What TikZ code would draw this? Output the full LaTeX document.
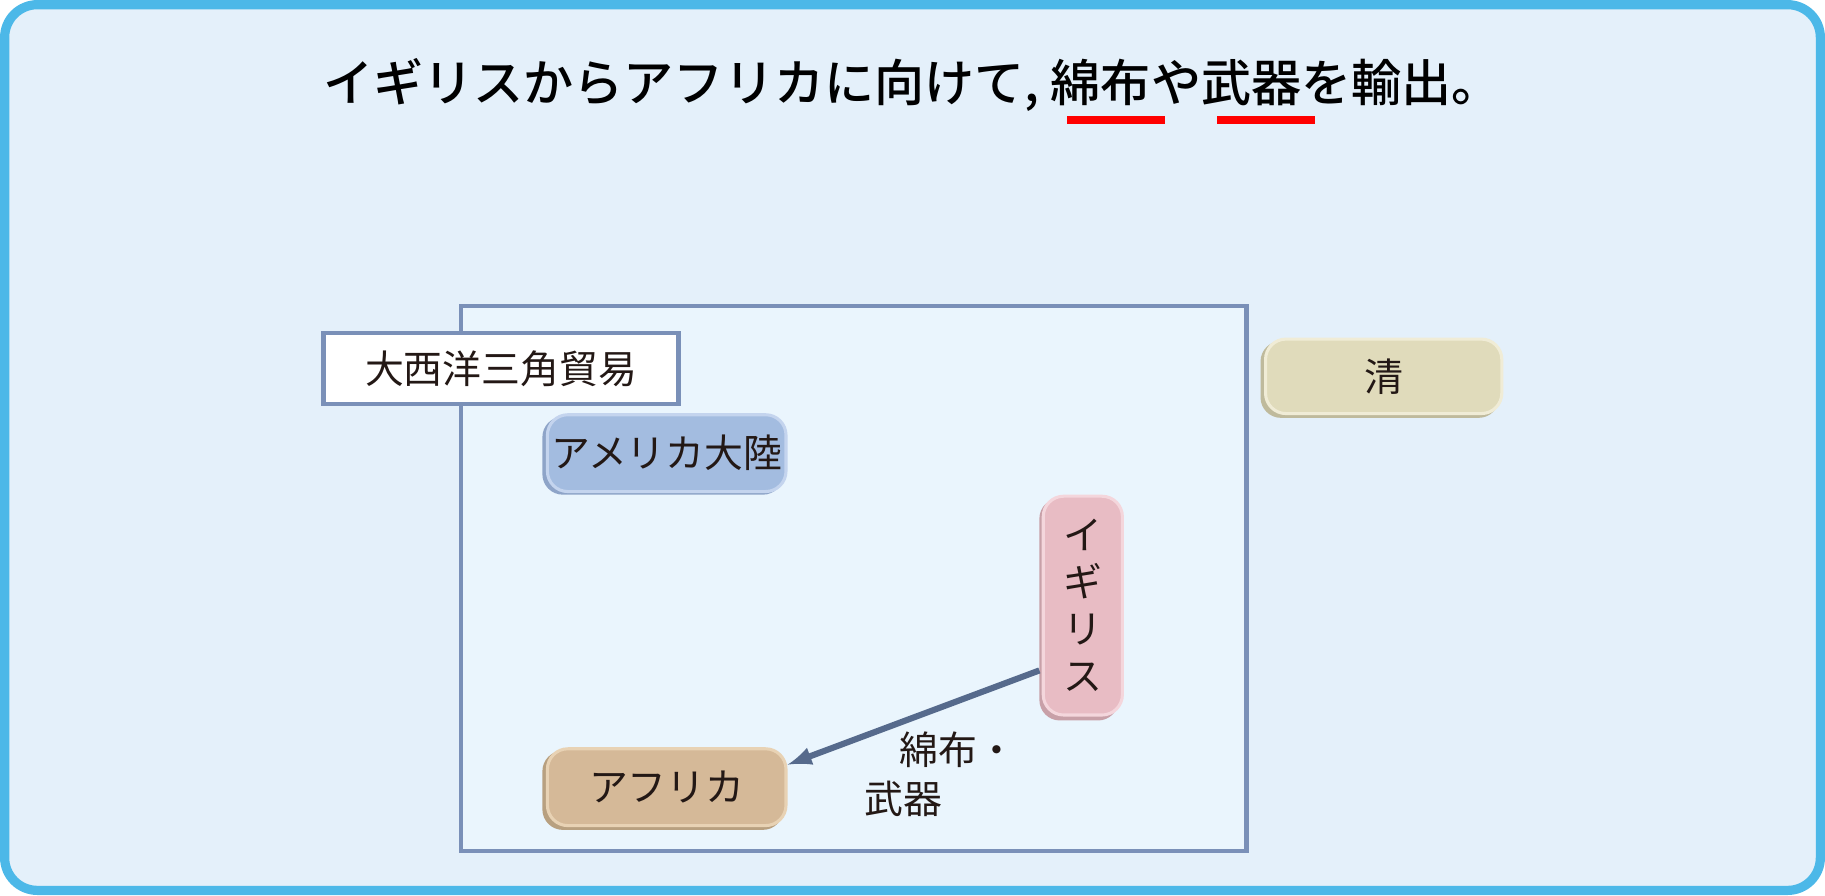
\documentclass[tikz,border=0pt]{standalone}
\usepackage{fontspec}
\setmainfont{Noto Sans CJK JP}
\newfontfamily\titlefont{Noto Sans CJK JP Medium}
\definecolor{outerb}{HTML}{4CB8E8}
\definecolor{outerf}{HTML}{E4F0FA}
\definecolor{innerb}{HTML}{7A90B8}
\definecolor{innerf}{HTML}{EAF5FD}
\definecolor{amf}{HTML}{A3BCE0}\definecolor{amb}{HTML}{C4D4EE}\definecolor{ams}{HTML}{8EA4C8}
\definecolor{ukf}{HTML}{E8BCC4}\definecolor{ukb}{HTML}{F4D6DC}\definecolor{uks}{HTML}{C8A0A8}
\definecolor{aff}{HTML}{D5B998}\definecolor{afb}{HTML}{E8D2B4}\definecolor{afs}{HTML}{B8A080}
\definecolor{qf}{HTML}{E0DBBB}\definecolor{qb}{HTML}{F0ECD6}\definecolor{qs}{HTML}{BFBA9C}
\definecolor{arr}{HTML}{566A8C}
\definecolor{txt}{HTML}{231815}
\begin{document}
\begin{tikzpicture}[x=0.02cm,y=-0.02cm,
  box/.style={rounded corners=10pt,inner sep=0pt,anchor=north west,font=\fontsize{19}{22}\selectfont,text=txt,line width=1.5pt}]
\useasboundingbox (0,0) rectangle (1568,769);
\draw[draw=outerb,fill=outerf,line width=4.5pt,rounded corners=16pt] (4,4) rectangle (1564,765);
\node[text=black] (title) at (784,73) {\fontsize{24.5}{28}\titlefont イギリスからアフリカに向けて, 綿布や武器を輸出。};
\draw[red,line width=4pt] (917,103) -- (1001,103);
\draw[red,line width=4pt] (1046,103) -- (1130,103);
\draw[draw=innerb,fill=innerf,line width=2.2pt] (396,263) rectangle (1071,731);
\node[draw=innerb,fill=white,line width=2.2pt,minimum width=305*0.02cm,minimum height=61*0.02cm,anchor=north west,font=\fontsize{19}{22}\selectfont,text=txt] (lab) at (276,284) {大西洋三角貿易};
\fill[ams,rounded corners=10pt] (466,358) rectangle (673,425);
\node[box,fill=amf,draw=amb,minimum width=205*0.02cm,minimum height=66*0.02cm] (am) at (469,355) {アメリカ大陸};
\fill[uks,rounded corners=10pt] (893,428) rectangle (961,619);
\node[box,fill=ukf,draw=ukb,minimum width=68*0.02cm,minimum height=188*0.02cm,align=center,font=\fontsize{19}{23}\selectfont] (uk) at (895,425) {イ\\ギ\\リ\\ス};
\fill[afs,rounded corners=10pt] (466,645) rectangle (673,713);
\node[box,fill=aff,draw=afb,minimum width=205*0.02cm,minimum height=66*0.02cm] (af) at (469,642) {アフリカ};
\fill[qs,rounded corners=10pt] (1083,293) rectangle (1288,359);
\node[box,fill=qf,draw=qb,minimum width=203*0.02cm,minimum height=64*0.02cm] (qing) at (1086,290) {清};
\coordinate (s) at (893,576);
\draw[-latex,line width=3pt,draw=arr] (s) -- (af.east |- 0,657);
\node[font=\fontsize{19}{24}\selectfont,align=left,text=txt] (goods) at (808,665) {\hspace*{0.9em}綿布・\\武器};
\end{tikzpicture}
\end{document}
